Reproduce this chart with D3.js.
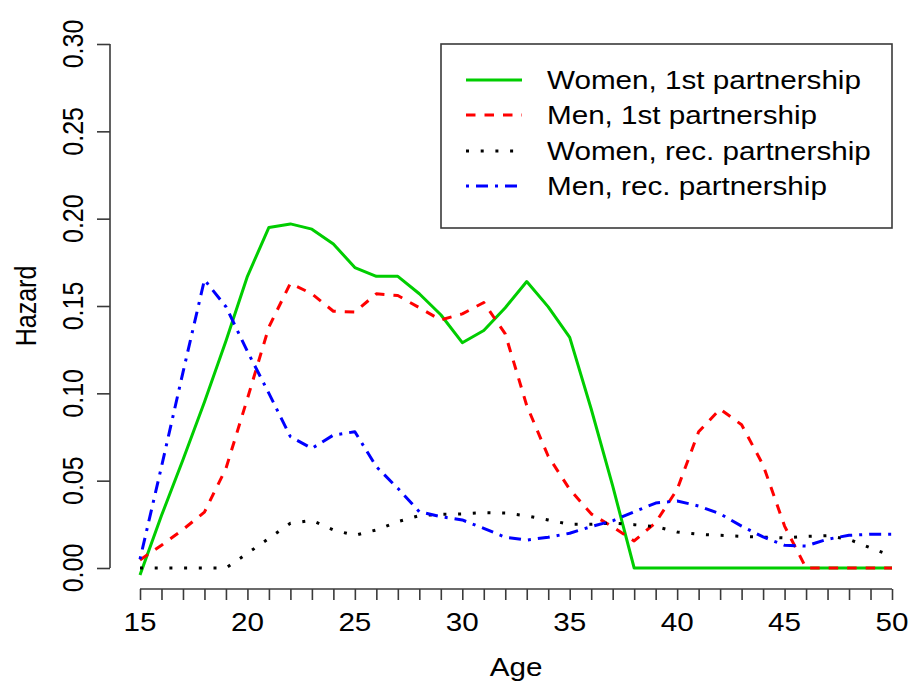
<!DOCTYPE html>
<html><head><meta charset="utf-8">
<script src="https://cdn.jsdelivr.net/npm/d3@7"></script>
<style>body{margin:0;background:#fff}svg{display:block}text{font-family:"Liberation Sans",Arial,Helvetica,sans-serif;fill:#000}</style>
</head><body><svg id="c" width="910" height="682"></svg>
<script>
const ages = [15,16,17,18,19,20,21,22,23,24,25,26,27,28,29,30,31,32,33,34,35,36,37,38,39,40,41,42,43,44,45,46,47,48,49,50];
const womenFirst = [-0.004,0.030,0.062,0.095,0.130,0.167,0.195,0.197,0.194,0.1855,0.172,0.167,0.167,0.157,0.145,0.129,0.136,0.149,0.164,0.1495,0.132,0.091,0.047,0,0,0,0,0,0,0,0,0,0,0,0,0];
const menFirst = [0.0046,0.013,0.022,0.032,0.057,0.097,0.138,0.163,0.157,0.147,0.1465,0.157,0.156,0.149,0.142,0.1455,0.152,0.134,0.093,0.064,0.045,0.031,0.0235,0.0155,0.026,0.045,0.078,0.091,0.082,0.059,0.024,0,0,0,0,0];
const womenRec = [0,0,0,0,0,0.0084,0.017,0.0256,0.0273,0.0218,0.0187,0.0218,0.0265,0.030,0.0307,0.031,0.0317,0.0315,0.0298,0.0275,0.025,0.025,0.0258,0.0248,0.0237,0.0206,0.0193,0.0187,0.0181,0.0177,0.0172,0.0181,0.0185,0.0164,0.0115,0.0069];
const menRec = [0.005,0.058,0.112,0.165,0.1496,0.124,0.100,0.0752,0.0685,0.0761,0.078,0.058,0.0456,0.0322,0.0294,0.0275,0.0227,0.0176,0.016,0.0176,0.0199,0.0237,0.027,0.0322,0.0372,0.0384,0.0355,0.031,0.024,0.0178,0.013,0.0126,0.0165,0.0187,0.0193,0.0193];
const seriesNames = ["Women, 1st partnership","Men, 1st partnership","Women, rec. partnership","Men, rec. partnership"];
const xTickLabels = [15,20,25,30,35,40,45,50];
const yTickLabels = ["0.00","0.05","0.10","0.15","0.20","0.25","0.30"];
const yTickValues = [0,0.05,0.10,0.15,0.20,0.25,0.30];

const styles = [
  {color:"#00CD00", dash:null, cap:"butt"},
  {color:"#FF0000", dash:"9.5,9", cap:"butt"},
  {color:"#000000", dash:"3,11.7", cap:"butt"},
  {color:"#0000FF", dash:"3,7,12,7", cap:"butt"}
];
const data = [womenFirst, menFirst, womenRec, menRec];
const SX = 1.185, FS = 25;

const svg = d3.select("#c");
const x = d3.scaleLinear().domain([15,50]).range([140,892]);
const y = d3.scaleLinear().domain([0,0.30]).range([568,44]);
const axisColor = "#3a3a3a";

// x axis
const xAxis = svg.append("g").attr("transform","translate(0,589)")
  .call(d3.axisBottom(x).tickValues(ages).tickSize(11).tickFormat(""));
xAxis.select(".domain").attr("stroke",axisColor).attr("stroke-width",1.6).attr("d","M140,0H892");
xAxis.selectAll(".tick line").attr("stroke",axisColor).attr("stroke-width",1.6);
xTickLabels.forEach(v=>{
  svg.append("text").attr("transform",`translate(${x(v)},631) scale(${SX},1)`)
    .attr("text-anchor","middle").attr("font-size",FS).text(v);
});

// y axis
const yAxis = svg.append("g").attr("transform","translate(110,0)")
  .call(d3.axisLeft(y).tickValues(yTickValues).tickSize(13).tickFormat(""));
yAxis.select(".domain").attr("stroke",axisColor).attr("stroke-width",1.6).attr("d","M0,44V568");
yAxis.selectAll(".tick line").attr("stroke",axisColor).attr("stroke-width",1.6);
yTickValues.forEach((v,i)=>{
  svg.append("text").attr("transform",`translate(82.5,${y(v)}) scale(${SX},1) rotate(-90)`)
    .attr("text-anchor","middle").attr("font-size",FS).text(yTickLabels[i]);
});

// axis titles
svg.append("text").attr("transform",`translate(516,676) scale(${SX},1)`)
  .attr("text-anchor","middle").attr("font-size",FS).text("Age");
svg.append("text").attr("transform",`translate(35.5,306) scale(${SX},1) rotate(-90)`)
  .attr("text-anchor","middle").attr("font-size",FS).text("Hazard");

// lines
const line = d3.line().x((d,i)=>x(ages[i])).y(d=>y(d));
data.forEach((vals,k)=>{
  const p = svg.append("path").datum(vals).attr("d",line)
    .attr("fill","none").attr("stroke",styles[k].color).attr("stroke-width",3)
    .attr("stroke-linejoin","round").attr("stroke-linecap",styles[k].cap);
  if(styles[k].dash) p.attr("stroke-dasharray",styles[k].dash);
});

// legend
const lg = svg.append("g");
lg.append("rect").attr("x",441).attr("y",44).attr("width",451).attr("height",184)
  .attr("fill","#fff").attr("stroke",axisColor).attr("stroke-width",1.6);
const rows = [80,115,151,186];
seriesNames.forEach((name,k)=>{
  const l = lg.append("line").attr("x1",466).attr("x2",522).attr("y1",rows[k]).attr("y2",rows[k])
    .attr("stroke",styles[k].color).attr("stroke-width",3).attr("stroke-linecap",styles[k].cap);
  if(styles[k].dash) l.attr("stroke-dasharray",styles[k].dash);
  lg.append("text").attr("transform",`translate(547,${rows[k]+9}) scale(${SX},1)`)
    .attr("font-size",FS).text(name);
});
</script></body></html>
